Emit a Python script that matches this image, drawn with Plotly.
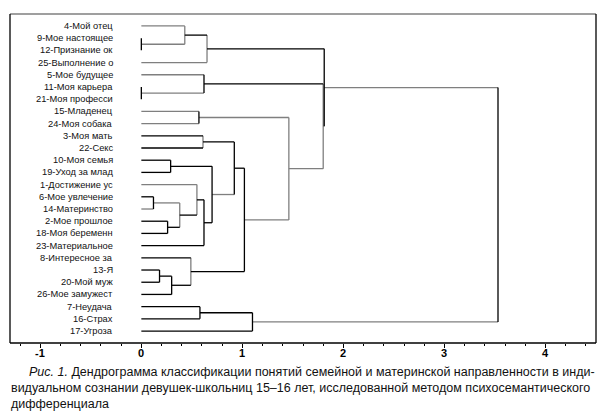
import plotly.graph_objects as go

# ---- data ----
leaf_labels = [
    "4-Мой отец", "9-Мое настоящее", "12-Признание ок", "25-Выполнение о",
    "5-Мое будущее", "11-Моя карьера", "21-Моя професси", "15-Младенец",
    "24-Моя собака", "3-Моя мать", "22-Секс", "10-Моя семья",
    "19-Уход за млад", "1-Достижение ус", "6-Мое увлечение", "14-Материнство",
    "2-Мое прошлое", "18-Моя беременн", "23-Материальное", "8-Интересное за",
    "13-Я", "20-Мой муж", "26-Мое замужест", "7-Неудача", "16-Страх", "17-Угроза",
]

# merges: (name, left child, right child, linkage distance); leaves are ints (row index)
merges = [
    ("n9_12", 1, 2, 0.00),
    ("A1", 0, "n9_12", 0.43),
    ("A", "A1", 3, 0.65),
    ("n11_21", 5, 6, 0.00),
    ("B", 4, "n11_21", 0.62),
    ("G", 7, 8, 0.57),
    ("K", 9, 10, 0.61),
    ("M", 11, 12, 0.29),
    ("R", 14, 15, 0.12),
    ("S", 16, 17, 0.26),
    ("Q", "R", "S", 0.38),
    ("P", 13, "Q", 0.55),
    ("N", "P", 18, 0.62),
    ("L", "M", "N", 0.70),
    ("I", "K", "L", 0.92),
    ("n13_20", 20, 21, 0.18),
    ("J2", "n13_20", 22, 0.30),
    ("J", 19, "J2", 0.49),
    ("H", "I", "J", 1.02),
    ("C", "G", "H", 1.46),
    ("D", "B", "C", 1.80),
    ("E", "A", "D", 1.81),
    ("F1", 23, 24, 0.58),
    ("F", "F1", 25, 1.10),
    ("root", "E", "F", 3.53),
]

x_ticks = [-1, 0, 1, 2, 3, 4]

caption_lines = [
    "<i>Рис. 1.</i> Дендрограмма классификации понятий семейной и материнской направленности в инди-",
    "видуальном сознании девушек-школьниц 15–16 лет, исследованной методом психосемантического",
    "дифференциала",
]

# ---- styles (which links are printed grey) ----
GREY = "#7f7f7f"
BLACK = "#000000"
grey_h = {0, "n9_12", 3, 4, "n11_21", 7, 8, "G", "L", 13, 15, "R", "H", "C", "D", "E", "F"}
grey_v = {"A1", "A", "K", "Q", "P", "J", "C", "D"}

# ---- compute tree geometry from merges ----
pos_x = {i: 0.0 for i in range(len(leaf_labels))}
pos_y = {i: float(i) for i in range(len(leaf_labels))}
segs = {GREY: ([], []), BLACK: ([], [])}


def add(col, xs, ys):
    segs[col][0].extend(xs + [None])
    segs[col][1].extend(ys + [None])


for name, a, b, d in merges:
    for c in (a, b):
        add(GREY if c in grey_h else BLACK, [pos_x[c], d], [pos_y[c], pos_y[c]])
    add(GREY if name in grey_v else BLACK, [d, d], [pos_y[a], pos_y[b]])
    pos_x[name] = d
    pos_y[name] = (pos_y[a] + pos_y[b]) / 2

fig = go.Figure()
for col, (xs, ys) in segs.items():
    fig.add_trace(go.Scatter(x=xs, y=ys, mode="lines",
                             line=dict(color=col, width=1.3),
                             hoverinfo="skip", showlegend=False))

for i, lab in enumerate(leaf_labels):
    fig.add_annotation(x=-0.265, y=i, text=lab, showarrow=False,
                       xanchor="right", yanchor="middle",
                       font=dict(family="Liberation Sans", size=9.3, color="#111"))

# frame
fig.add_shape(type="line", xref="paper", yref="paper", x0=0, x1=1, y0=1, y1=1,
              line=dict(color=GREY, width=1.5))
for x0, y0, x1, y1 in [(0, 0, 0, 1), (1, 0, 1, 1), (0, 0, 1, 0)]:
    fig.add_shape(type="line", xref="paper", yref="paper", x0=x0, x1=x1, y0=y0, y1=y1,
                  line=dict(color=BLACK, width=1.3))

# page body has an 8px offset; geometry below is in screen pixels
PLOT_TOP, PLOT_BOT, PLOT_L, PLOT_R = 14, 343, 10, 596
PH = PLOT_BOT - PLOT_TOP
PW = PLOT_R - PLOT_L

# x tick labels
for v in x_ticks:
    fig.add_annotation(x=v, xref="x", yref="paper", y=(PLOT_BOT - 353) / PH,
                       text=f"<b>{v}</b>", showarrow=False, xanchor="center", yanchor="middle",
                       font=dict(family="Liberation Sans", size=11, color="#000"))

cap_x = [27, 9, 9]
cap_y = [372, 388, 404]
for k, line in enumerate(caption_lines):
    fig.add_annotation(xref="paper", yref="paper",
                       x=(cap_x[k] - PLOT_L) / PW, y=(PLOT_BOT - cap_y[k]) / PH,
                       text=line, showarrow=False, xanchor="left", yanchor="middle",
                       font=dict(family="Liberation Sans", size=12.5, color="#111"))

fig.update_layout(
    width=601, height=409,
    margin=dict(l=PLOT_L - 8, r=609 - PLOT_R - 8 + 8, t=PLOT_TOP - 8, b=409 - (PLOT_BOT - 8)),
    paper_bgcolor="white", plot_bgcolor="white",
    xaxis=dict(range=[-1.3, 4.5], tickvals=x_ticks, showticklabels=False,
               ticks="outside", ticklen=4, tickcolor=BLACK, tickwidth=1,
               showgrid=False, zeroline=False, showline=False,
               minor=dict(dtick=0.2, tick0=0, ticks="outside", ticklen=2, tickcolor=BLACK)),
    yaxis=dict(range=[25.98, -0.98], showticklabels=False, showgrid=False,
               zeroline=False, showline=False, ticks=""),
)

fig.write_html("out.html")
